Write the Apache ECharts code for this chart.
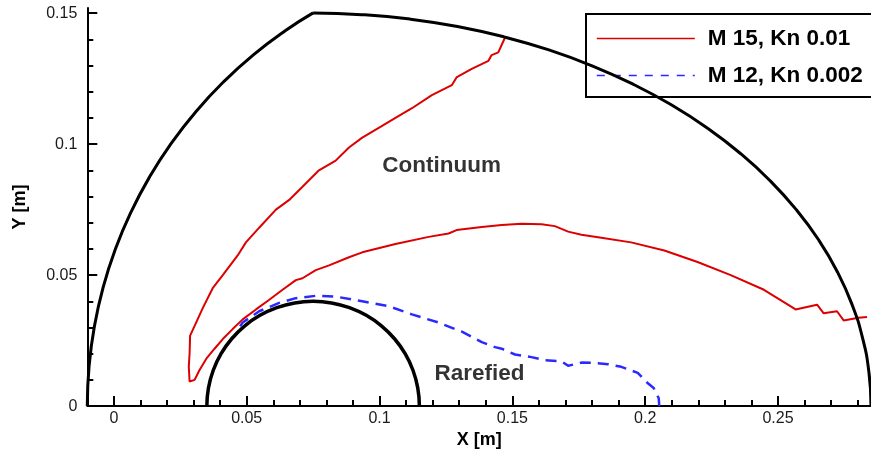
<!DOCTYPE html>
<html>
<head>
<meta charset="utf-8">
<script src="https://cdn.jsdelivr.net/npm/echarts@6/dist/echarts.min.js"></script>
<style>
  html, body { margin: 0; padding: 0; background: #fff; }
  #chart { width: 871px; height: 454px; }
</style>
</head>
<body>
<div id="chart"></div>
<script>
// Axis ticks
const xMajorTicks = [0, 0.05, 0.1, 0.15, 0.2, 0.25];
const xMinorTicks = [-0.01, 0.01, 0.02, 0.03, 0.04, 0.06, 0.07, 0.08, 0.09, 0.11, 0.12, 0.13, 0.14,
  0.16, 0.17, 0.18, 0.19, 0.21, 0.22, 0.23, 0.24, 0.26, 0.27, 0.28];
const yMajorTicks = [0, 0.05, 0.1, 0.15];
const yMinorTicks = [0.01, 0.02, 0.03, 0.04, 0.06, 0.07, 0.08, 0.09, 0.11, 0.12, 0.13, 0.14];

// Outer domain boundary [x, y] in metres: upstream arc
const boundaryUpstream = [
  [-0.01, 0], [-0.00933, 0.01525], [-0.00734, 0.03039], [-0.00404, 0.04529],
  [0.00055, 0.05985], [0.0064, 0.07396], [0.01345, 0.0875], [0.02165, 0.10038],
  [0.03094, 0.11249], [0.04126, 0.12374], [0.05251, 0.13406], [0.06462, 0.14335],
  [0.075, 0.1501]
];

// Outer domain boundary: downstream arc
const boundaryDownstream = [
  [0.075, 0.1501],
  [0.0933, 0.14943], [0.11147, 0.14772], [0.12935, 0.14489], [0.14682, 0.14095],
  [0.16375, 0.13595], [0.18, 0.1299], [0.19545, 0.12287], [0.20999, 0.11491],
  [0.22349, 0.10607], [0.23587, 0.09642], [0.24702, 0.08604], [0.25687, 0.075],
  [0.26533, 0.06339], [0.27233, 0.0513], [0.27785, 0.03882], [0.28181, 0.02605],
  [0.2842, 0.01307], [0.285, 0]
];

// Cylinder surface
const cylinder = [
  [0.035, 0], [0.03561, 0.00695], [0.03741, 0.01368], [0.04036, 0.02], [0.04436, 0.02571],
  [0.04929, 0.03064], [0.055, 0.03464], [0.06132, 0.03759], [0.06805, 0.03939], [0.075, 0.04],
  [0.08195, 0.03939], [0.08868, 0.03759], [0.095, 0.03464], [0.10071, 0.03064], [0.10564, 0.02571],
  [0.10964, 0.02], [0.11259, 0.01368], [0.11439, 0.00695], [0.115, 0]
];

// Breakdown contour, M 15, Kn 0.01
const contourM15 = [
  [0.1472, 0.1406], [0.1447, 0.1350], [0.1422, 0.1340], [0.1410, 0.1318], [0.1347, 0.1287],
  [0.1291, 0.1256], [0.1272, 0.1225], [0.1197, 0.1187], [0.1122, 0.1137], [0.1060, 0.1100],
  [0.0997, 0.1062], [0.0935, 0.1025], [0.0885, 0.0987], [0.0835, 0.0937], [0.0772, 0.0900],
  [0.0710, 0.0837], [0.0660, 0.0787], [0.0610, 0.0750], [0.0547, 0.0681], [0.0497, 0.0625],
  [0.0466, 0.0575], [0.0410, 0.0500], [0.0372, 0.0450], [0.0335, 0.0375], [0.0304, 0.0306],
  [0.0287, 0.0269], [0.0285, 0.0200], [0.0282, 0.0150], [0.0285, 0.0094], [0.0291, 0.0087],
  [0.0304, 0.0100], [0.0322, 0.0137], [0.0348, 0.0181], [0.0379, 0.0219], [0.0410, 0.0256],
  [0.0447, 0.0294], [0.0485, 0.0331], [0.0535, 0.0369], [0.0585, 0.0406], [0.0635, 0.0444],
  [0.0685, 0.0481], [0.0710, 0.0488], [0.0760, 0.0519], [0.0810, 0.0537], [0.0885, 0.0568],
  [0.0935, 0.0587], [0.1060, 0.0619], [0.1185, 0.0646], [0.1260, 0.0659], [0.1290, 0.0672],
  [0.1385, 0.0684], [0.1460, 0.0691], [0.1535, 0.0696], [0.1610, 0.0694], [0.1660, 0.0687],
  [0.1710, 0.0666], [0.1760, 0.0654], [0.1835, 0.0643], [0.1947, 0.0625], [0.2072, 0.0594],
  [0.2197, 0.0550], [0.2322, 0.0500], [0.2447, 0.0444], [0.2522, 0.0397], [0.2566, 0.0369],
  [0.2647, 0.0387], [0.2672, 0.0354], [0.2722, 0.0362], [0.2747, 0.0327], [0.2803, 0.0337],
  [0.2835, 0.0340]
];

// Breakdown contour, M 12, Kn 0.002
const contourM12 = [
  [0.0475, 0.0305], [0.0485, 0.0319], [0.0547, 0.0362], [0.0622, 0.0394], [0.0685, 0.0412],
  [0.0760, 0.0421], [0.0835, 0.0418], [0.0935, 0.0400], [0.1035, 0.0381], [0.1122, 0.0350],
  [0.1222, 0.0319], [0.1310, 0.0284], [0.1385, 0.0244], [0.1435, 0.0225], [0.1460, 0.0219],
  [0.1510, 0.0197], [0.1572, 0.0187], [0.1622, 0.0175], [0.1685, 0.0171], [0.1710, 0.0154],
  [0.1760, 0.0166], [0.1810, 0.0165], [0.1860, 0.0160], [0.1910, 0.0150], [0.1972, 0.0127],
  [0.2010, 0.0087], [0.2032, 0.0069], [0.2051, 0.0030], [0.2053, 0.0]
];

// Region labels [x, y, text]
const regionLabels = [
  [0.1234, 0.0919, 'Continuum'],
  [0.1376, 0.0122, 'Rarefied']
];

const seriesNames = ['M 15, Kn 0.01', 'M 12, Kn 0.002'];

const FONT = "'Liberation Sans', Arial, Helvetica, sans-serif";
const X_MIN = -0.01, X_MAX = 0.285, Y_MIN = 0, Y_MAX = 0.152;

const fmt = v => String(+(+v).toFixed(3));
const tickLine = { color: '#000', width: 2 };

const chart = echarts.init(document.getElementById('chart'), null, { renderer: 'canvas' });

chart.setOption({
  animation: false,
  backgroundColor: '#fff',
  grid: { left: 87.3, right: -3.1, top: 7.9, bottom: 40.7, containLabel: false },
  legend: {
    data: [
      { name: seriesNames[0], lineStyle: { width: 1.6 } },
      { name: seriesNames[1], lineStyle: { width: 1.6, type: [8, 8] } }
    ],
    orient: 'vertical',
    left: 586, top: 14,
    padding: [13, 30, 10, 10],
    itemWidth: 98, itemHeight: 20, itemGap: 14,
    itemStyle: { opacity: 0 },
    borderColor: '#000', borderWidth: 2, backgroundColor: '#fff',
    textStyle: { fontFamily: FONT, fontWeight: 'bold', fontSize: 22.5, color: '#000', padding: [0, 0, 0, 8] }
  },
  xAxis: [
    {
      type: 'value', min: X_MIN, max: X_MAX, position: 'bottom',
      name: 'X [m]', nameLocation: 'middle', nameGap: 21,
      nameTextStyle: { fontFamily: FONT, fontWeight: 'bold', fontSize: 18, color: '#000' },
      axisLine: { onZero: false, lineStyle: { color: '#000', width: 2 } },
      axisTick: { inside: true, length: 10, lineStyle: tickLine, customValues: xMajorTicks },
      axisLabel: { customValues: xMajorTicks, formatter: fmt, margin: 4,
        fontFamily: FONT, fontSize: 16, color: '#1a1a1a' },
      splitLine: { show: false }
    },
    {
      type: 'value', min: X_MIN, max: X_MAX, position: 'bottom',
      axisLine: { show: false, onZero: false },
      axisTick: { inside: true, length: 6, lineStyle: tickLine, customValues: xMinorTicks },
      axisLabel: { show: false },
      splitLine: { show: false }
    }
  ],
  yAxis: [
    {
      type: 'value', min: Y_MIN, max: Y_MAX, position: 'left',
      name: 'Y [m]', nameLocation: 'middle', nameGap: 58,
      nameTextStyle: { fontFamily: FONT, fontWeight: 'bold', fontSize: 18, color: '#000' },
      axisLine: { onZero: false, lineStyle: { color: '#000', width: 2 } },
      axisTick: { inside: true, length: 10, lineStyle: tickLine, customValues: yMajorTicks },
      axisLabel: { customValues: yMajorTicks, formatter: fmt, margin: 10,
        fontFamily: FONT, fontSize: 16, color: '#1a1a1a' },
      splitLine: { show: false }
    },
    {
      type: 'value', min: Y_MIN, max: Y_MAX, position: 'left',
      axisLine: { show: false, onZero: false },
      axisTick: { inside: true, length: 6, lineStyle: tickLine, customValues: yMinorTicks },
      axisLabel: { show: false },
      splitLine: { show: false }
    }
  ],
  series: [
    {
      name: seriesNames[0], type: 'line', data: contourM15, symbol: 'none',
      lineStyle: { color: '#dd0000', width: 2 }, itemStyle: { color: '#dd0000' }, z: 3
    },
    {
      name: seriesNames[1], type: 'line', data: contourM12, symbol: 'none',
      lineStyle: { color: '#2a2aff', width: 2.5, type: [11, 7] }, itemStyle: { color: '#2a2aff' }, z: 3
    },
    {
      name: 'Boundary upstream', type: 'line', data: boundaryUpstream, symbol: 'none', smooth: 0.5,
      lineStyle: { color: '#000', width: 3 }, z: 4
    },
    {
      name: 'Boundary downstream', type: 'line', data: boundaryDownstream, symbol: 'none', smooth: 0.5,
      lineStyle: { color: '#000', width: 3 }, z: 4
    },
    {
      name: 'Cylinder', type: 'line', data: cylinder, symbol: 'none', smooth: 0.5,
      lineStyle: { color: '#000', width: 3.5 }, z: 4
    },
    {
      name: 'Regions', type: 'scatter', data: regionLabels, symbolSize: 0, silent: true,
      label: {
        show: true, position: 'inside', formatter: p => p.data[2],
        fontFamily: FONT, fontWeight: 'bold', fontSize: 22.5, color: '#000'
      }, z: 5
    }
  ]
});
</script>
</body>
</html>
